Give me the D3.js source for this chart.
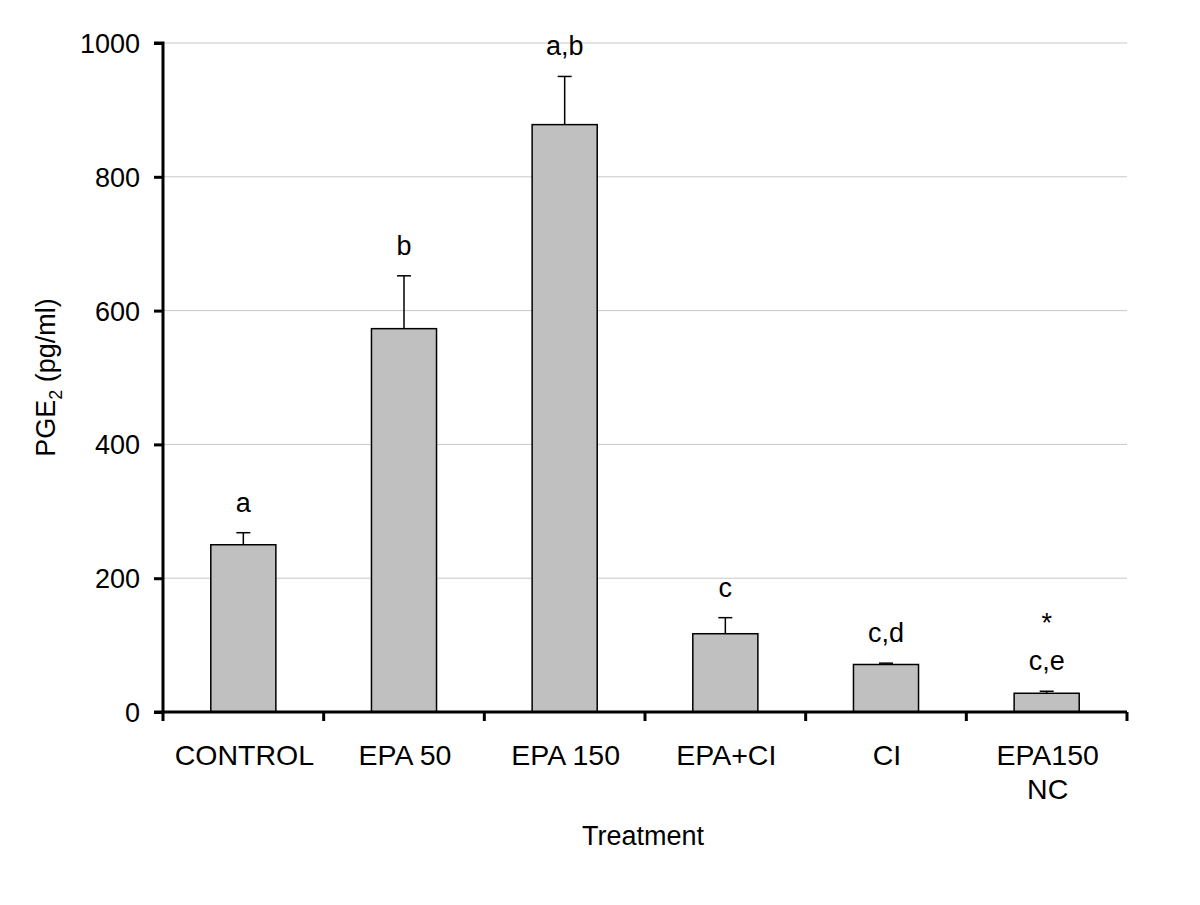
<!DOCTYPE html>
<html><head><meta charset="utf-8">
<script src="https://cdn.jsdelivr.net/npm/d3@7"></script>
<style>body{margin:0;background:#fff}text{font-family:"Liberation Sans",Arial,sans-serif;fill:#000}</style>
</head><body><svg id="c" width="1200" height="905"></svg>
<script>
const categories = [["CONTROL"],["EPA 50"],["EPA 150"],["EPA+CI"],["CI"],["EPA150","NC"]];
const means = [250, 573, 878, 117, 71, 28];
const errors = [18, 79, 72, 24, 2, 3];
const letters = [["a"],["b"],["a,b"],["c"],["c,d"],["*","c,e"]];
const yTicks = [0,200,400,600,800,1000];

const FS = 27;
const svg = d3.select("#c");
const L=163, R=1127, T=43, B=712;
const x = d3.scaleBand().domain(d3.range(6)).range([L,R]).paddingInner(0.595).paddingOuter(0.2975);
const y = d3.scaleLinear().domain([0,1000]).range([B,T]);

// grid
svg.append("g").selectAll("line").data(yTicks.slice(1)).join("line")
  .attr("x1",L).attr("x2",R).attr("y1",d=>y(d)).attr("y2",d=>y(d))
  .attr("stroke","#c8c8c8").attr("stroke-width",1);

// bars
svg.append("g").selectAll("rect").data(means).join("rect")
  .attr("x",(d,i)=>x(i)).attr("width",x.bandwidth())
  .attr("y",d=>y(d)).attr("height",d=>B-y(d))
  .attr("fill","#c0c0c0").attr("stroke","#000").attr("stroke-width",1.5);

// error bars
const eg = svg.append("g").attr("stroke","#000").attr("stroke-width",1.5);
means.forEach((m,i)=>{
  const cx = x(i)+x.bandwidth()/2;
  eg.append("line").attr("x1",cx).attr("x2",cx).attr("y1",y(m)).attr("y2",y(m+errors[i]));
  eg.append("line").attr("x1",cx-7).attr("x2",cx+7).attr("y1",y(m+errors[i])).attr("y2",y(m+errors[i]));
});

// letters
letters.forEach((ls,i)=>{
  const cx = x(i)+x.bandwidth()/2;
  const top = y(means[i]+errors[i]);
  ls.slice().reverse().forEach((s,j)=>{
    svg.append("text").attr("x",cx).attr("y",top-21-j*38).attr("text-anchor","middle")
      .attr("font-size",FS).text(s);
  });
});

// y axis
const ya = svg.append("g").attr("transform",`translate(${L},0)`)
  .call(d3.axisLeft(y).tickValues(yTicks).tickSize(9).tickPadding(14).tickFormat(d3.format("d")));
ya.select(".domain").attr("stroke-width",3).attr("d",`M-9,${T}H0V${B}`);
ya.selectAll(".tick line").attr("stroke-width",3);
ya.selectAll(".tick text").attr("font-size",FS).attr("dy","0.35em").attr("font-family","Liberation Sans, Arial, sans-serif");

// x axis
const xb = svg.append("g");
xb.append("line").attr("x1",L-9).attr("x2",R).attr("y1",B).attr("y2",B).attr("stroke","#000").attr("stroke-width",3);
const bounds = d3.range(7).map(i=>L+(R-L)*i/6);
xb.selectAll(".tk").data(bounds).join("line").attr("class","tk")
  .attr("x1",d=>d).attr("x2",d=>d).attr("y1",B).attr("y2",B+9).attr("stroke","#000").attr("stroke-width",3);
categories.forEach((lines,i)=>{
  const cx = x(i)+x.bandwidth()/2;
  lines.forEach((s,j)=>{
    svg.append("text").attr("x",cx+1).attr("y",765+j*34).attr("text-anchor","middle").attr("font-size",28.5).text(s);
  });
});

// axis titles
svg.append("text").attr("x",643).attr("y",845).attr("text-anchor","middle").attr("font-size",FS).text("Treatment");
const yl = svg.append("text").attr("transform",`translate(55,${(T+B)/2}) rotate(-90)`).attr("text-anchor","middle").attr("font-size",FS);
yl.append("tspan").text("PGE");
yl.append("tspan").attr("font-size",18).attr("dy",7).text("2");
yl.append("tspan").attr("dy",-7).text(" (pg/ml)");
</script></body></html>
